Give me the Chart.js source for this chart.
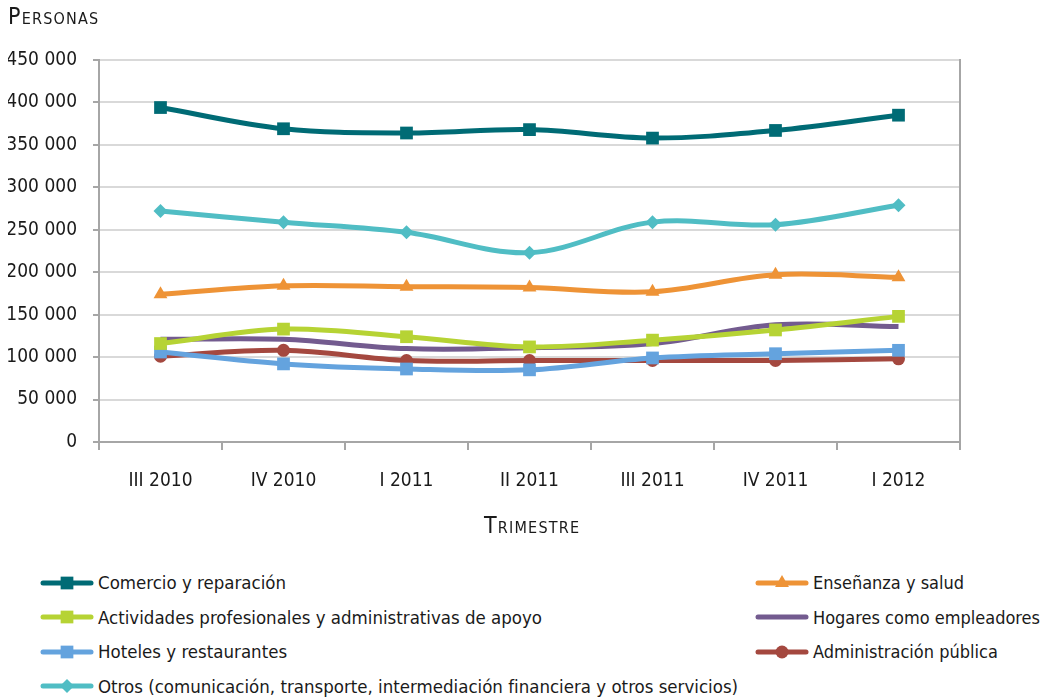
<!DOCTYPE html>
<html lang="es">
<head>
  <meta charset="UTF-8" />
  <title>Personas por trimestre</title>
  <script src="https://cdn.jsdelivr.net/npm/chart.js"></script>
  <style>
    body { margin: 0; background: #fff; font-family: "DejaVu Sans Condensed", "DejaVu Sans", sans-serif; color: #1a1a1a; }
    .wrap { position: relative; width: 1041px; height: 697px; }
    .chart-box { position: absolute; left: 0; top: 0; width: 1041px; height: 555px; }
    .legend { position: absolute; left: 0; top: 572px; width: 1041px; }
    .item { position: absolute; display: flex; align-items: center; font-size: 18.5px; white-space: nowrap; }
    .item.right { font-size: 18px; }
    .item canvas { margin-right: 4px; }
  </style>
</head>
<body>
  <div class="wrap">
    <div class="chart-box"><canvas id="chart" width="1041" height="555"></canvas></div>
    <div class="legend" id="legend"></div>
  </div>

  <script>
    const trimestres = ["III 2010", "IV 2010", "I 2011", "II 2011", "III 2011", "IV 2011", "I 2012"];

    const comercio    = [394000, 369000, 364000, 368000, 358000, 367000, 385000];
    const ensenanza   = [174000, 184000, 183000, 182000, 177000, 197000, 194000];
    const actividades = [116000, 133000, 124000, 112000, 120000, 132000, 148000];
    const hogares     = [121000, 121000, 110000, 111000, 116000, 138000, 136000];
    const hoteles     = [106000,  92000,  86000,  85000,  99000, 104000, 108000];
    const admin       = [101000, 108000,  96000,  96000,  96000,  96000,  98000];
    const otros       = [272000, 259000, 247000, 223000, 259000, 256000, 279000];

    const yTicks = [0, 50000, 100000, 150000, 200000, 250000, 300000, 350000, 400000, 450000];

    const FONT = "'DejaVu Sans Condensed', 'DejaVu Sans', sans-serif";

    // series: label, data, colour, marker, legend position
    const series = [
      { label: "Comercio y reparación", data: comercio, color: "#006b75", point: "rect", r: 9, col: 0, row: 0 },
      { label: "Enseñanza y salud", data: ensenanza, color: "#ee9336", point: "triangle", r: 8, col: 1, row: 0 },
      { label: "Actividades profesionales y administrativas de apoyo", data: actividades, color: "#b6d334", point: "rect", r: 9, col: 0, row: 1 },
      { label: "Hogares como empleadores", data: hogares, color: "#735b8f", point: false, r: 0, col: 1, row: 1 },
      { label: "Hoteles y restaurantes", data: hoteles, color: "#64a3de", point: "rect", r: 9, col: 0, row: 2 },
      { label: "Administración pública", data: admin, color: "#a4483f", point: "circle", r: 6.5, col: 1, row: 2 },
      { label: "Otros (comunicación, transporte, intermediación financiera y otros servicios)", data: otros, color: "#50bdc4", point: "rectRot", r: 7, col: 0, row: 3 }
    ];

    // right border of the plot area + axis titles in small caps
    const extras = {
      id: "extras",
      afterDatasetsDraw(chart) {
        const a = chart.chartArea, c = chart.ctx;
        c.save();
        c.strokeStyle = "#a6a6a6";
        c.lineWidth = 2;
        c.beginPath();
        c.moveTo(a.right, a.top - 1);
        c.lineTo(a.right, a.bottom);
        c.stroke();

        c.font = "23px " + FONT;
        c.fontVariantCaps = "small-caps";
        c.letterSpacing = "1.2px";
        c.fillStyle = "#1a1a1a";
        c.textBaseline = "middle";
        c.textAlign = "left";
        c.fillText("Personas", 8, 18);
        c.fillText("Trimestre", 484, 527);
        c.restore();
      }
    };

    new Chart(document.getElementById("chart"), {
      type: "line",
      data: {
        labels: trimestres,
        datasets: series.map(s => ({
          label: s.label,
          data: s.data,
          borderColor: s.color,
          backgroundColor: s.color,
          borderWidth: 5,
          tension: 0.35,
          pointStyle: s.point,
          pointRadius: s.r,
          pointBorderWidth: 0,
          fill: false
        }))
      },
      options: {
        responsive: false,
        animation: false,
        layout: { padding: { left: 8, right: 81, top: 60, bottom: 0 } },
        plugins: {
          legend: { display: false },
          tooltip: { enabled: false }
        },
        scales: {
          x: {
            offset: true,
            afterFit: axis => { axis.height = 113; },
            grid: { offset: true, drawOnChartArea: false, color: "#a6a6a6", lineWidth: 2, tickLength: 8 },
            border: { color: "#a6a6a6", width: 2 },
            ticks: { color: "#1a1a1a", font: { family: FONT, size: 19 }, padding: 20 }
          },
          y: {
            min: 0,
            max: 450000,
            afterBuildTicks: axis => { axis.ticks = yTicks.map(v => ({ value: v })); },
            afterFit: axis => { axis.width = 91; },
            grid: { color: "#d9d9d9", lineWidth: 2, tickLength: 6, tickColor: "#a6a6a6" },
            border: { color: "#a6a6a6", width: 2 },
            ticks: {
              color: "#1a1a1a",
              font: { family: FONT, size: 19 },
              padding: 16,
              callback: v => v === 0 ? "0" : v.toLocaleString("en-US").replace(/,/g, " ")
            }
          }
        }
      },
      plugins: [extras]
    });

    // legend in two columns, as in the original
    const legend = document.getElementById("legend");
    const colX = [40, 755];
    series.forEach(s => {
      const item = document.createElement("div");
      item.className = s.col ? "item right" : "item";
      item.style.left = colX[s.col] + "px";
      item.style.top = (s.row * 34.5) + "px";
      const cv = document.createElement("canvas");
      cv.width = 54; cv.height = 20;
      const c = cv.getContext("2d");
      c.strokeStyle = s.color;
      c.lineWidth = 5;
      c.lineCap = "round";
      c.beginPath(); c.moveTo(3, 10); c.lineTo(51, 10); c.stroke();
      if (s.point) {
        c.fillStyle = s.color;
        Chart.helpers.drawPoint(c, { pointStyle: s.point, radius: s.r, borderWidth: 0 }, 27, 10);
      }
      item.appendChild(cv);
      const t = document.createElement("span");
      t.textContent = s.label;
      item.appendChild(t);
      legend.appendChild(item);
    });
  </script>
</body>
</html>
